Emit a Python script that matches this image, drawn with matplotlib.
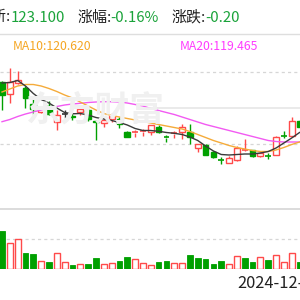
import matplotlib
matplotlib.use('Agg')
import matplotlib.pyplot as plt
from matplotlib.lines import Line2D
import numpy as np

plt.rcParams['font.family'] = ['Noto Sans CJK SC', 'DejaVu Sans']

# ---------------- data ----------------
opens = [121.83, 120.60, 121.75, 121.20, 119.55, 118.85, 119.40, 117.80, 118.60, 118.40,
         118.77, 119.00, 117.90, 117.75, 118.15, 118.15, 116.80, 116.70, 116.80, 116.85,
         117.30, 116.30, 116.64, 116.80, 116.80, 115.25, 115.50, 114.75, 114.04, 113.75,
         114.00, 114.97, 115.00, 114.40, 114.45, 114.55, 116.45, 116.40, 117.90]
closes = [120.50, 121.75, 121.95, 120.20, 119.07, 119.35, 118.60, 118.55, 118.60, 118.30,
          119.10, 118.10, 117.77, 118.05, 118.45, 117.65, 116.35, 116.77, 116.87, 117.50,
          116.85, 116.23, 116.70, 117.35, 116.35, 115.57, 114.55, 114.35, 113.97, 114.23,
          115.25, 115.05, 114.40, 114.73, 114.38, 116.25, 116.38, 117.90, 117.35]
highs = [121.90, 123.17, 122.90, 121.40, 120.15, 119.45, 119.90, 119.00, 119.05, 118.75,
         119.27, 119.20, 117.95, 118.10, 118.70, 118.30, 116.90, 117.00, 117.10, 117.55,
         117.55, 116.55, 116.95, 117.60, 117.60, 115.60, 115.60, 114.95, 114.35, 114.40,
         115.45, 116.10, 115.05, 114.80, 114.67, 116.40, 116.95, 118.30, 118.00]
lows = [119.00, 119.70, 121.65, 119.20, 118.60, 118.75, 118.50, 117.00, 118.25, 118.00,
        118.50, 117.90, 116.00, 117.35, 117.80, 117.20, 116.30, 116.30, 116.40, 116.50,
        116.70, 115.85, 116.25, 116.10, 115.60, 114.85, 114.50, 114.25, 113.60, 113.70,
        113.95, 114.95, 114.30, 114.30, 114.10, 114.50, 116.15, 116.35, 117.30]
ma5 = [121.70, 121.75, 121.95, 121.40, 120.65, 120.05, 119.70, 119.20, 118.75, 118.62,
       118.65, 118.50, 118.25, 118.10, 117.95, 117.75, 117.50, 117.15, 116.95, 116.95,
       116.87, 116.75, 116.67, 116.55, 116.30, 115.95, 115.40, 114.90, 114.55, 114.50,
       114.55, 114.60, 114.60, 114.70, 114.85, 115.20, 115.70, 116.20, 116.75]
ma10 = [120.80, 121.10, 121.40, 121.55, 121.55, 121.40, 121.15, 120.85, 120.50, 120.20,
        119.80, 119.40, 119.00, 118.65, 118.45, 118.30, 118.15, 118.00, 117.85, 117.70,
        117.55, 117.40, 117.25, 117.10, 116.85, 116.55, 116.25, 115.95, 115.70, 115.45,
        115.25, 115.10, 114.95, 114.85, 114.85, 115.00, 115.25, 115.55, 115.80]
ma20 = [117.83, 118.05, 118.35, 118.60, 118.80, 119.00, 119.20, 119.35, 119.50, 119.60,
        119.67, 119.75, 119.80, 119.83, 119.83, 119.80, 119.70, 119.55, 119.40, 119.15,
        118.95, 118.75, 118.55, 118.30, 118.05, 117.80, 117.55, 117.35, 117.15, 116.95,
        116.75, 116.55, 116.35, 116.15, 115.95, 115.85, 115.80, 115.80, 115.80]
volumes = [3800, 2600, 3000, 1650, 1550, 850, 730, 1600, 730, 400,
           470, 500, 1130, 470, 630, 800, 1230, 970, 570, 370,
           730, 830, 570, 630, 1400, 1130, 1000, 500, 830, 470,
           1330, 1070, 670, 1230, 900, 1400, 670, 1570, 730]
volume_up = [0, 1, 1, 0, 0, 1, 0, 1, 1, 0,
             1, 0, 0, 1, 1, 0, 0, 1, 1, 1,
             0, 0, 1, 1, 0, 0, 0, 0, 0, 1,
             1, 0, 0, 1, 0, 1, 1, 1, 0]

header_last = "123.100"
header_pct = "-0.16%"
header_chg = "-0.20"
ma10_label = "MA10:120.620"
ma20_label = "MA20:119.465"
date_label = "2024-12-"
watermark = "东方财富"

# ---------------- style ----------------
RED = '#ff4a4a'
GREEN = '#00a000'
TXT_GREEN = '#1aa33a'
W, H = 300, 300


def fx(px):
    return px / W


def fy(py):
    return 1 - py / H


fig = plt.figure(figsize=(3, 3), dpi=100)
fig.patch.set_facecolor('white')

ax = fig.add_axes([0, fy(209), 1, (209 - 36) / H])
axv = fig.add_axes([0, fy(269), 1, (269 - 209) / H])
for a in (ax, axv):
    a.set_axis_off()
    a.set_xlim(-2 / 7.83, 298 / 7.83)
ax.set_ylim(109.1, 126.4)
axv.set_ylim(0, 6000)

n = len(opens)
x = np.arange(n)
o = np.array(opens)
c = np.array(closes)
hi = np.array(highs)
lo = np.array(lows)
top = np.maximum(o, c)
bot = np.minimum(o, c)

# watermark
fig.text(fx(95), fy(110), watermark, ha='center', va='center',
         fontsize=25, color='#f0f0f0', fontweight='bold', zorder=0)

# grid lines
for lvl in (122.8, 115.6):
    ax.axhline(lvl, color='#d6d6d6', lw=0.9, ls=(0, (2.5, 2.5)), zorder=1)
axv.axhline(3000, color='#d6d6d6', lw=0.9, ls=(0, (2.5, 2.5)), zorder=1)
ax.plot([(150 - 2) / 7.83, 298 / 7.83], [119.25, 119.25], color='#e6e6e6', lw=1.2, zorder=1)

bw = 0.74
for i in range(n):
    if c[i] > o[i]:
        col, face = RED, 'white'
    elif c[i] < o[i]:
        col, face = GREEN, GREEN
    else:
        col, face = '#333333', '#333333'
    ax.vlines(x[i], top[i], hi[i], color=col, lw=1.0, zorder=2)
    ax.vlines(x[i], lo[i], bot[i], color=col, lw=1.0, zorder=2)
    hgt = top[i] - bot[i]
    if hgt < 0.08:
        ax.hlines(top[i], x[i] - bw / 2, x[i] + bw / 2, color=col, lw=1.2, zorder=3)
    else:
        ax.bar(x[i], hgt, bottom=bot[i], width=bw, facecolor=face, edgecolor=col,
               linewidth=1.0, zorder=3)

ax.plot(x, ma20, color='#f25af2', lw=1.0, zorder=4)
ax.plot(x, ma10, color='#f5ab3a', lw=1.0, zorder=4)
ax.plot(x, ma5, color='#3a3a3a', lw=1.0, zorder=5)

# volume
for i in range(n):
    if volume_up[i]:
        axv.bar(x[i], volumes[i], width=bw, facecolor='white', edgecolor=RED, linewidth=1.0, zorder=3)
    else:
        axv.bar(x[i], volumes[i], width=bw, facecolor=GREEN, edgecolor=GREEN, linewidth=0.6, zorder=3)

# separators
fig.add_artist(Line2D([0, 1], [fy(34), fy(34)], transform=fig.transFigure, color='#dedede', lw=1.0))
fig.add_artist(Line2D([0, 1], [fy(209), fy(209)], transform=fig.transFigure, color='#dcdcdc', lw=1.4))

# header texts
hs = 10.8
fig.text(fx(10.5), fy(17.5), "最新:", ha='right', va='center', fontsize=hs, color='#222222')
fig.text(fx(10.5), fy(17.5), header_last, ha='left', va='center', fontsize=hs, color=TXT_GREEN)
fig.text(fx(78), fy(17.5), "涨幅:", ha='left', va='center', fontsize=hs, color='#222222')
fig.text(fx(110.5), fy(17.5), header_pct, ha='left', va='center', fontsize=hs, color=TXT_GREEN)
fig.text(fx(171.5), fy(17.5), "涨跌:", ha='left', va='center', fontsize=hs, color='#222222')
fig.text(fx(205.5), fy(17.5), header_chg, ha='left', va='center', fontsize=hs, color=TXT_GREEN)

fig.text(fx(13), fy(46), ma10_label, ha='left', va='center', fontsize=8.8, color='#f5a623')
fig.text(fx(180), fy(46), ma20_label, ha='left', va='center', fontsize=8.8, color='#ff3cff')

fig.text(fx(237), fy(284), date_label, ha='left', va='center', fontsize=11.8, color='#222222')

fig.savefig('out.png', dpi=100, facecolor='white')
